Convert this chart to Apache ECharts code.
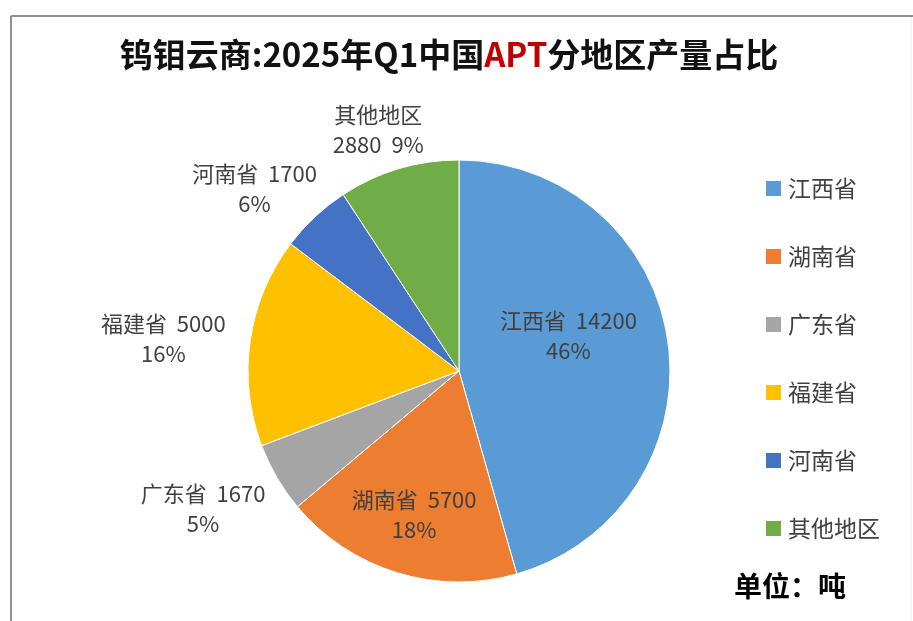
<!DOCTYPE html>
<html>
<head>
<meta charset="utf-8">
<script src="https://cdn.jsdelivr.net/npm/echarts@6/dist/echarts.min.js"></script>
<style>
html,body{margin:0;padding:0;background:#fff;}
#c{width:913px;height:621px;}
</style>
</head>
<body>
<div id="c"></div>
<script>
// ---- data ----
const regions = ['江西省', '湖南省', '广东省', '福建省', '河南省', '其他地区'];
const outputs = [14200, 5700, 1670, 5000, 1700, 2880];
const shareLabels = ['46%', '18%', '5%', '16%', '6%', '9%'];
const labelPlacement = ['inside', 'inside', 'outside', 'outside', 'outside', 'outside'];

// ---- style ----
const colors = ['#5B9BD5', '#ED7D31', '#A5A5A5', '#FFC000', '#4472C4', '#70AD47'];
const labelNudge = [[2, -20], [-13, 40], [-26, 23], [-37, 0], [-15, -17], [19, -25]];
const FONT = '"Noto Sans CJK SC", "Noto Sans", sans-serif';

const chart = echarts.init(document.getElementById('c'), null, { renderer: 'canvas' });

const pieData = regions.map((name, i) => ({
  name: name,
  value: outputs[i],
  label: { position: labelPlacement[i] }
}));

chart.setOption({
  backgroundColor: '#ffffff',
  color: colors,
  animation: false,
  title: {
    text: '钨钼云商:2025年Q1中国{r|APT}分地区产量占比',
    left: 444,
    textAlign: 'center',
    top: 33,
    textStyle: {
      fontFamily: FONT,
      fontSize: 33,
      fontWeight: 'bold',
      color: '#111111',
      rich: {
        r: { fontFamily: FONT, fontSize: 33, fontWeight: 'bold', color: '#C00000' }
      }
    }
  },
  legend: {
    orient: 'vertical',
    left: 759,
    top: 172,
    icon: 'rect',
    itemWidth: 17,
    itemHeight: 17,
    itemGap: 45,
    data: regions,
    textStyle: {
      fontFamily: FONT,
      fontSize: 23,
      color: '#404040',
      padding: [0, 0, 0, 1]
    }
  },
  graphic: [
    { type: 'line', shape: { x1: 11, y1: 16, x2: 913, y2: 16 }, style: { stroke: '#8f8f8f', lineWidth: 2 } },
    { type: 'line', shape: { x1: 11, y1: 16, x2: 11, y2: 621 }, style: { stroke: '#8f8f8f', lineWidth: 2 } },
    { type: 'line', shape: { x1: 911, y1: 17, x2: 911, y2: 621 }, style: { stroke: '#eeeeee', lineWidth: 1 } },
    {
      type: 'text',
      left: 734,
      top: 572,
      style: { text: '单位：吨', fontFamily: FONT, fontSize: 28, fontWeight: 'bold', fill: '#000000' }
    }
  ],
  series: [{
    type: 'pie',
    center: [459, 371],
    radius: 211,
    startAngle: 90,
    clockwise: true,
    avoidLabelOverlap: false,
    itemStyle: { borderColor: '#ffffff', borderWidth: 1 },
    label: {
      show: true,
      fontFamily: FONT,
      fontSize: 22,
      lineHeight: 30,
      color: '#404040',
      align: 'center',
      formatter: function (p) {
        const i = p.dataIndex;
        if (i === 5) return p.name + '\n' + p.value + '  ' + shareLabels[i];
        return p.name + '  ' + p.value + '\n' + shareLabels[i];
      }
    },
    labelLine: { show: false },
    labelLayout: function (params) {
      const n = labelNudge[params.dataIndex];
      return { dx: n[0], dy: n[1], align: 'center', verticalAlign: 'middle' };
    },
    emphasis: { disabled: true },
    data: pieData
  }]
});
</script>
</body>
</html>
